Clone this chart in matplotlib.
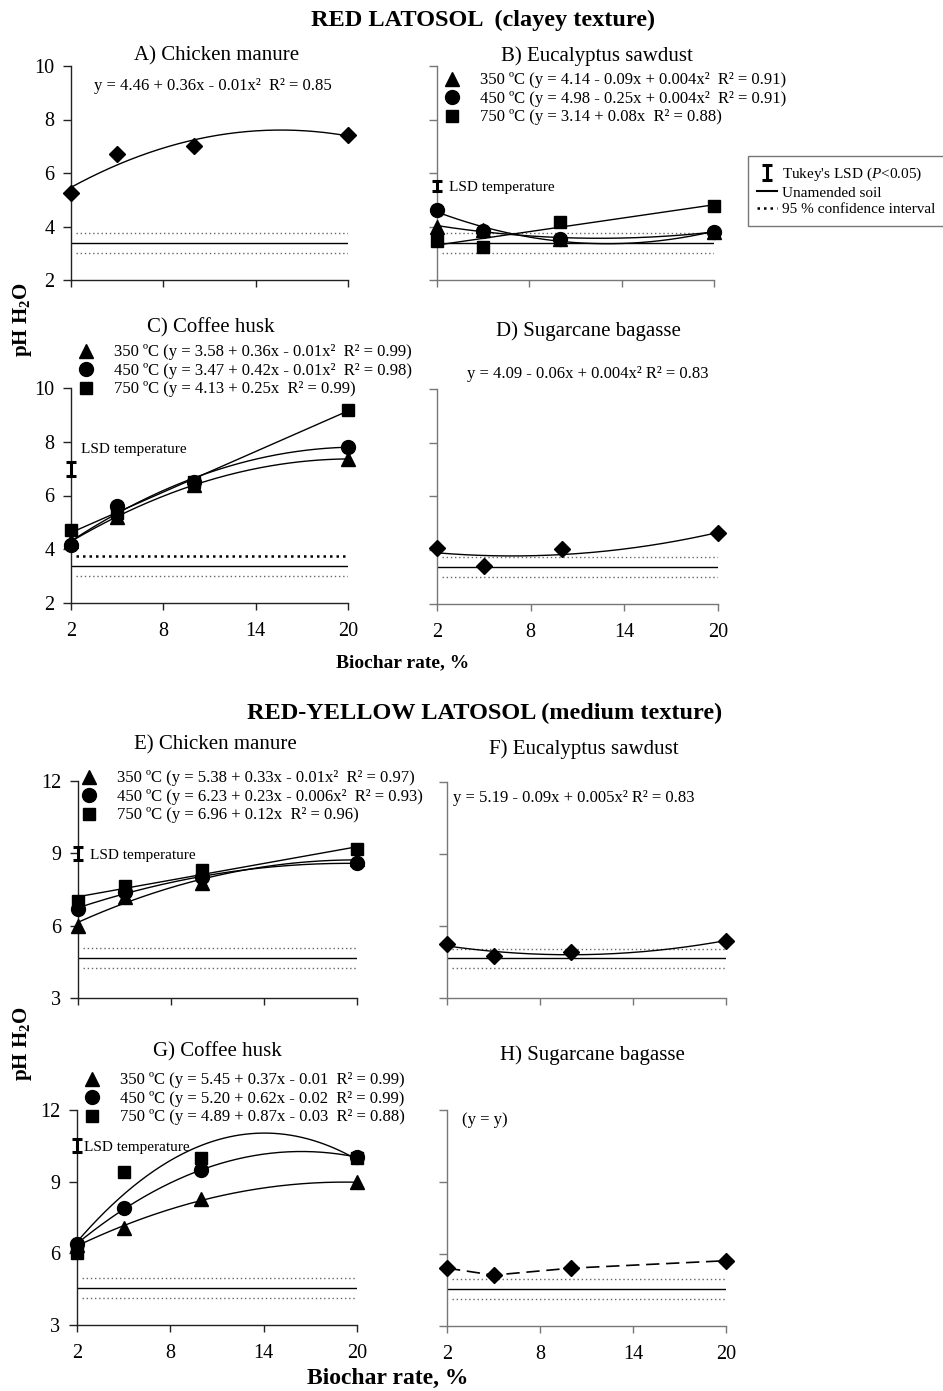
import numpy as np
import matplotlib
matplotlib.use('Agg')
import matplotlib.pyplot as plt
from matplotlib.lines import Line2D

plt.rcParams['font.family'] = ['Liberation Serif', 'DejaVu Serif']
plt.rcParams['mathtext.fontset'] = 'custom'
plt.rcParams['mathtext.rm'] = 'Liberation Serif'
plt.rcParams['mathtext.it'] = 'Liberation Serif:italic'
plt.rcParams['mathtext.bf'] = 'Liberation Serif:bold'

W, H = 943, 1391

# biochar rates (%)
rates = [2, 5, 10, 20]

# pH H2O values
a_chicken = [5.25, 6.71, 7.01, 7.42]
b_350 = [4.00, 3.87, 3.55, 3.80]
b_450 = [4.62, 3.84, 3.53, 3.81]
b_750 = [3.47, 3.23, 4.17, 4.78]
c_350 = [4.30, 5.20, 6.40, 7.36]
c_450 = [4.16, 5.61, 6.50, 7.82]
c_750 = [4.70, 5.35, 6.52, 9.20]
d_bagasse = [4.10, 3.43, 4.05, 4.63]
e_350 = [6.00, 7.20, 7.78, 8.75]
e_450 = [6.70, 7.40, 8.00, 8.59]
e_750 = [7.02, 7.65, 8.29, 9.18]
f_sawdust = [5.26, 4.77, 4.90, 5.38]
g_350 = [6.35, 7.08, 8.26, 8.97]
g_450 = [6.38, 7.89, 9.47, 10.03]
g_750 = [6.00, 9.39, 10.00, 10.00]
h_bagasse = [5.41, 5.12, 5.41, 5.72]

# unamended soil (mean, lower CI, upper CI) per panel A..H
soil_mean = [3.38, 3.38, 3.39, 3.37, 4.65, 4.65, 4.56, 4.56]
soil_low = [3.00, 3.00, 3.01, 3.00, 4.24, 4.24, 4.14, 4.13]
soil_high = [3.76, 3.77, 3.76, 3.74, 5.06, 5.06, 4.95, 4.95]

# Tukey's LSD for temperature (centre, half length) in B, C, E, G
lsd_center = {'B': 5.50, 'C': 7.00, 'E': 9.00, 'G': 10.52}
lsd_half = {'B': 0.19, 'C': 0.26, 'E': 0.26, 'G': 0.27}

temp_labels = {
    'B': ['350 ºC (y = 4.14 - 0.09x + 0.004x²  R² = 0.91)',
          '450 ºC (y = 4.98 - 0.25x + 0.004x²  R² = 0.91)',
          '750 ºC (y = 3.14 + 0.08x  R² = 0.88)'],
    'C': ['350 ºC (y = 3.58 + 0.36x - 0.01x²  R² = 0.99)',
          '450 ºC (y = 3.47 + 0.42x - 0.01x²  R² = 0.98)',
          '750 ºC (y = 4.13 + 0.25x  R² = 0.99)'],
    'E': ['350 ºC (y = 5.38 + 0.33x - 0.01x²  R² = 0.97)',
          '450 ºC (y = 6.23 + 0.23x - 0.006x²  R² = 0.93)',
          '750 ºC (y = 6.96 + 0.12x  R² = 0.96)'],
    'G': ['350 ºC (y = 5.45 + 0.37x - 0.01  R² = 0.99)',
          '450 ºC (y = 5.20 + 0.62x - 0.02  R² = 0.99)',
          '750 ºC (y = 4.89 + 0.87x - 0.03  R² = 0.88)'],
}

fig = plt.figure(figsize=(W / 100, H / 100), dpi=100)


def px_axes(left, top, right, bottom):
    return fig.add_axes([left / W, 1 - bottom / H, (right - left) / W, (bottom - top) / H])


def px_text(x, y, s, **kw):
    kw.setdefault('va', 'center')
    return fig.text(x / W, 1 - y / H, s, **kw)


MK = {'tri': dict(marker='^', ms=10), 'cir': dict(marker='o', ms=10),
      'sq': dict(marker='s', ms=8.5), 'dia': dict(marker='D', ms=8.5)}


def setup(ax, i, ylim, yticks, ylabels, xlabels, spine_col):
    ax.set_xlim(2, 20)
    ax.set_ylim(*ylim)
    ax.set_xticks([2, 8, 14, 20])
    ax.set_yticks(yticks)
    for s in ['top', 'right']:
        ax.spines[s].set_visible(False)
    for s in ['left', 'bottom']:
        ax.spines[s].set_color(spine_col)
        ax.spines[s].set_linewidth(1.0)
    ax.tick_params(axis='y', direction='out', length=6, width=1, color=spine_col,
                   labelsize=14.5, pad=6, labelleft=ylabels)
    ax.tick_params(axis='x', direction='out', length=5, width=1, color=spine_col,
                   labelsize=14.5, pad=9, labelbottom=xlabels)
    ax.patch.set_visible(False)
    # unamended soil reference and its 95 % CI
    ax.plot([2, 20], [soil_mean[i]] * 2, color='k', lw=1.0)
    ax.plot([2.3, 20], [soil_low[i]] * 2, color='#666', lw=1.0, ls=(0, (1, 2)))
    ax.plot([2.3, 20], [soil_high[i]] * 2, color='#666', lw=1.0, ls=(0, (1, 2)))


def series(ax, vals, mk, deg):
    x = np.array(rates, float)
    y = np.array(vals, float)
    if deg is None:
        ax.plot(x, y, color='k', lw=1.2, ls=(0, (8, 4)), zorder=3)
    else:
        c = np.polyfit(x, y, deg)
        xs = np.linspace(2, 20, 200)
        ax.plot(xs, np.polyval(c, xs), color='k', lw=1.0, zorder=3)
    h, = ax.plot(x, y, ls='none', color='k', clip_on=False, zorder=5, **MK[mk])
    return h


def lsd(ax, key):
    eb = ax.errorbar(2, lsd_center[key], yerr=lsd_half[key], fmt='none', ecolor='k',
                     elinewidth=2.2, capsize=3.5, capthick=2.2, zorder=6)
    for art in eb.get_children():
        art.set_clip_on(False)
    return eb


def temp_legend(ax, key, handles, marker_x, first_row_y):
    ax.legend(handles, temp_labels[key], loc='upper left',
              bbox_to_anchor=((marker_x - 8.3) / W, 1 - (first_row_y - 9.6) / H),
              bbox_transform=fig.transFigure, frameon=False, fontsize=12,
              borderpad=0, borderaxespad=0, handlelength=1.0, handletextpad=1.18,
              labelspacing=0.15)


top_lim, top_ticks = (2, 10), [2, 4, 6, 8, 10]
bot_lim, bot_ticks = (3, 12), [3, 6, 9, 12]

# ---------------- RED LATOSOL ----------------
axA = px_axes(71, 66, 348, 280)
setup(axA, 0, top_lim, top_ticks, True, False, '#222')
series(axA, a_chicken, 'dia', 2)

axB = px_axes(437, 66, 714, 280)
setup(axB, 1, top_lim, top_ticks, False, False, '#777')
hb = [series(axB, b_350, 'tri', 2), series(axB, b_450, 'cir', 2), series(axB, b_750, 'sq', 1)]
ebB = lsd(axB, 'B')
temp_legend(axB, 'B', hb, 452, 82)

axC = px_axes(71, 388, 348, 603)
setup(axC, 2, top_lim, top_ticks, True, True, '#222')
axC.lines[2].set(color='k', lw=1.8, ls=(0, (1, 1.6)))
hc = [series(axC, c_350, 'tri', 2), series(axC, c_450, 'cir', 2), series(axC, c_750, 'sq', 1)]
lsd(axC, 'C')
temp_legend(axC, 'C', hc, 86, 354)

axD = px_axes(437, 389, 718, 604)
setup(axD, 3, top_lim, top_ticks, False, True, '#777')
series(axD, d_bagasse, 'dia', 2)

# ---------------- RED-YELLOW LATOSOL ----------------
axE = px_axes(78, 781, 357, 998)
setup(axE, 4, bot_lim, bot_ticks, True, False, '#222')
he = [series(axE, e_350, 'tri', 2), series(axE, e_450, 'cir', 2), series(axE, e_750, 'sq', 1)]
lsd(axE, 'E')
temp_legend(axE, 'E', he, 89, 780)

axF = px_axes(447, 782, 726, 998)
setup(axF, 5, bot_lim, bot_ticks, False, False, '#777')
series(axF, f_sawdust, 'dia', 2)

axG = px_axes(77, 1110, 357, 1325)
setup(axG, 6, bot_lim, bot_ticks, True, True, '#222')
hg = [series(axG, g_350, 'tri', 2), series(axG, g_450, 'cir', 2), series(axG, g_750, 'sq', 2)]
lsd(axG, 'G')
temp_legend(axG, 'G', hg, 92, 1082)

axH = px_axes(447, 1110, 726, 1326)
setup(axH, 7, bot_lim, bot_ticks, False, True, '#777')
series(axH, h_bagasse, 'dia', None)

# ---------------- texts ----------------
px_text(483, 20, 'RED LATOSOL  (clayey texture)', ha='center', fontsize=17.5, fontweight='bold')
px_text(485, 713, 'RED-YELLOW LATOSOL (medium texture)', ha='center', fontsize=17.5, fontweight='bold')

px_text(217, 56, 'A) Chicken manure', ha='center', fontsize=15)
px_text(597, 56, 'B) Eucalyptus sawdust', ha='center', fontsize=15)
px_text(211, 328, 'C) Coffee husk', ha='center', fontsize=15)
px_text(588, 331, 'D) Sugarcane bagasse', ha='center', fontsize=15)
px_text(215, 745, 'E) Chicken manure', ha='center', fontsize=15)
px_text(584, 749, 'F) Eucalyptus sawdust', ha='center', fontsize=15)
px_text(217, 1052, 'G) Coffee husk', ha='center', fontsize=15)
px_text(592, 1055, 'H) Sugarcane bagasse', ha='center', fontsize=15)

px_text(213, 86, 'y = 4.46 + 0.36x - 0.01x²  R² = 0.85', ha='center', fontsize=12)
px_text(588, 374, 'y = 4.09 - 0.06x + 0.004x² R² = 0.83', ha='center', fontsize=12)
px_text(453, 798, 'y = 5.19 - 0.09x + 0.005x² R² = 0.83', ha='left', fontsize=12)
px_text(462, 1120, '(y = y)', ha='left', fontsize=12)

px_text(449, 188, 'LSD temperature', ha='left', fontsize=11)
px_text(81, 450, 'LSD temperature', ha='left', fontsize=11)
px_text(90, 855, 'LSD temperature', ha='left', fontsize=11)
px_text(84, 1147, 'LSD temperature', ha='left', fontsize=11)

px_text(403, 663, 'Biochar rate, %', ha='center', fontsize=14, fontweight='bold')
px_text(388, 1378, 'Biochar rate, %', ha='center', fontsize=17, fontweight='bold')
px_text(23, 320, r'pH H$\mathbf{_2}$O', ha='center', rotation=90, fontsize=15, fontweight='bold')
px_text(23, 1044, r'pH H$\mathbf{_2}$O', ha='center', rotation=90, fontsize=15, fontweight='bold')

# shared key
key_handles = [ebB,
               Line2D([], [], color='k', lw=1.5),
               Line2D([], [], color='k', lw=1.8, ls=(0, (1, 1.6)))]
key_labels = [r"Tukey's LSD ($\mathit{P}$<0.05)", 'Unamended soil', '95 % confidence interval']
leg = fig.legend(key_handles, key_labels, loc='upper left',
                 bbox_to_anchor=(748 / W, 1 - 156 / H), bbox_transform=fig.transFigure,
                 fontsize=11, frameon=True, fancybox=False, borderpad=0.62,
                 handlelength=1.3, handletextpad=0.33, labelspacing=0.2, borderaxespad=0)
leg.get_frame().set_edgecolor('#555')
leg.get_frame().set_linewidth(1.0)

fig.savefig('out.png', dpi=100)
